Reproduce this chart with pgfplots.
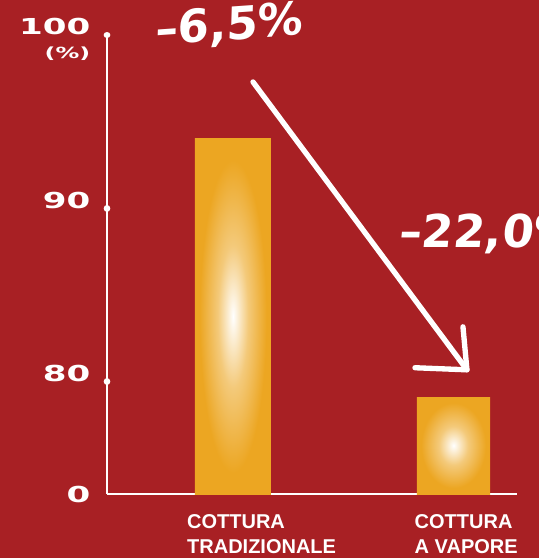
\documentclass[border=0pt]{standalone}
\usepackage{pgfplots}
\pgfplotsset{compat=1.18}
\usepackage{fontspec}
\setmainfont{Liberation Sans}
\newfontfamily\tickfont[FakeStretch=1.55]{DejaVu Sans}
\newfontfamily\catfont{Liberation Sans}
\newfontfamily\handfont[FakeSlant=0.1]{DejaVu Sans}
\definecolor{bgred}{RGB}{168,32,36}
\definecolor{barorange}{RGB}{236,166,34}
\pgfdeclareradialshading{glow}{\pgfpoint{0bp}{0bp}}{color(0bp)=(white); color(2.5bp)=(white!85!barorange); color(10bp)=(white!40!barorange); color(22bp)=(barorange); color(50bp)=(barorange)}
\begin{document}
\begin{tikzpicture}
\path[use as bounding box] (-80.25pt,-48pt) rectangle (324pt,370.5pt);
\clip (-80.25pt,-48pt) rectangle (324pt,370.5pt);
\fill[bgred] (-80.25pt,-48pt) rectangle (324pt,370.5pt);
\begin{axis}[
  at={(0pt,0pt)}, anchor=south west,
  scale only axis, width=307.5pt, height=344.25pt,
  xmin=-0.5714, xmax=1.288,
  ymin=73.5, ymax=100,
  y coord trafo/.code={\pgfmathparse{#1-73.5}},
  y coord inv trafo/.code={\pgfmathparse{#1+73.5}},
  axis x line=bottom, axis y line=left,
  axis line style={white, line width=2pt, -},
  clip=false,
  ytick={80,90,100},
  yticklabels={80,90,{\begin{tabular}[t]{@{}r@{}}100\\{\fontsize{11.5}{11.5}\selectfont(\%)}\end{tabular}}},
  extra y ticks={73.5},
  extra y tick labels={\raisebox{-6pt}{0}},
  extra y tick style={major tick length=0pt, major tick style={draw=none}},
  yticklabel style={anchor=base east, font=\tickfont\bfseries\fontsize{16.5}{18}\selectfont, text=white, xshift=-9pt},
  tick align=center,
  major tick length=0.01pt,
  ytick style={white, line width=5pt, line cap=round},
  xtick={-0.205,0.827},
  xticklabels={{COTTURA\\TRADIZIONALE},{COTTURA\\A VAPORE}},
  xticklabel style={anchor=north west, align=left, font=\catfont\bfseries\fontsize{15}{18.5}\selectfont, text=white, xshift=-4pt, yshift=-12pt},
  xtick style={draw=none},
]
\addplot[ybar, bar width=57pt, bar shift=0pt, draw=none, shading=glow] coordinates {(0,94.0)};
\addplot[ybar, bar width=55pt, bar shift=0pt, draw=none, shading=glow] coordinates {(1,79.1)};
\draw[white, line width=4pt, line cap=round, line join=round] (axis cs:0.0907,97.29) -- (axis cs:1.061,80.67);
\draw[white, line width=4pt, line cap=round, line join=round] (axis cs:0.8254,80.79) -- (axis cs:1.061,80.67) -- (axis cs:1.043,83.15);
\node[anchor=base west, rotate=4, text=white, inner sep=0pt, font=\handfont\bfseries\fontsize{34}{34}\selectfont] at (axis cs:-0.354,99.42) {–6,5\%};
\node[anchor=base west, text=white, inner sep=0pt, font=\handfont\bfseries\fontsize{34}{34}\selectfont] at (axis cs:0.748,87.71) {–22,0\%};
\end{axis}
\end{tikzpicture}
\end{document}
